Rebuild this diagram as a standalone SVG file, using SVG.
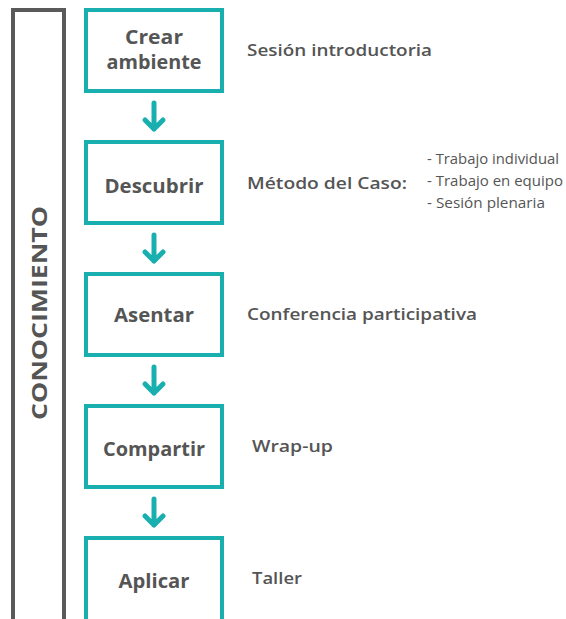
<svg xmlns="http://www.w3.org/2000/svg" width="566" height="619" viewBox="0 0 566 619">
<defs>
<style>
.box{fill:#fff;stroke:#1aafaf;stroke-width:4}
.bl{font-family:"Open Sans",Lato,sans-serif;font-weight:700;font-size:20px;fill:#555;text-anchor:middle}
.bl2{font-family:"Open Sans",Lato,sans-serif;font-weight:700;font-size:19px;fill:#555;text-anchor:middle}
.rl{font-family:"Open Sans",Lato,sans-serif;font-weight:600;font-size:17px;fill:#555}
.sl{font-family:"Open Sans",Lato,sans-serif;font-weight:400;font-size:14px;fill:#555}
.arr{fill:none;stroke:#1aafaf;stroke-width:5;stroke-linecap:round;stroke-linejoin:round}
</style>
</defs>
<g id="conocimiento">
<path d="M13,619 V10 H64 V619" fill="none" stroke="#5a5a5a" stroke-width="4"/>
<text transform="translate(47,313) rotate(-90)" text-anchor="middle" font-family="'Open Sans',Lato,sans-serif" font-weight="700" font-size="22" fill="#555" textLength="214" lengthAdjust="spacingAndGlyphs">CONOCIMIENTO</text>
</g>
<g id="connectors">
<path class="arr" d="M154,103 V129 M145,120 L154,129 L163,120"/>
<path class="arr" d="M154,235 V261 M145,252 L154,261 L163,252"/>
<path class="arr" d="M154,367 V393 M145,384 L154,393 L163,384"/>
<path class="arr" d="M154,499 V525 M145,516 L154,525 L163,516"/>
</g>
<g id="crear">
<rect class="box" x="86" y="10" width="136" height="81"/>
<text class="bl2" x="154" y="44" textLength="58" lengthAdjust="spacingAndGlyphs">Crear</text>
<text class="bl2" x="154" y="69" textLength="95" lengthAdjust="spacingAndGlyphs">ambiente</text>
<text class="rl" x="247" y="56" textLength="185" lengthAdjust="spacingAndGlyphs">Sesión introductoria</text>
</g>
<g id="descubrir">
<rect class="box" x="86" y="142" width="136" height="81"/>
<text class="bl" x="154" y="193" textLength="99" lengthAdjust="spacingAndGlyphs">Descubrir</text>
<text class="rl" x="247" y="189" textLength="160" lengthAdjust="spacingAndGlyphs">Método del Caso:</text>
<text class="sl" x="427" y="164" textLength="132" lengthAdjust="spacingAndGlyphs">- Trabajo individual</text>
<text class="sl" x="427" y="186" textLength="136" lengthAdjust="spacingAndGlyphs">- Trabajo en equipo</text>
<text class="sl" x="427" y="208" textLength="118" lengthAdjust="spacingAndGlyphs">- Sesión plenaria</text>
</g>
<g id="asentar">
<rect class="box" x="86" y="274" width="136" height="81"/>
<text class="bl" x="154" y="322" textLength="80" lengthAdjust="spacingAndGlyphs">Asentar</text>
<text class="rl" x="247" y="320" textLength="230" lengthAdjust="spacingAndGlyphs">Conferencia participativa</text>
</g>
<g id="compartir">
<rect class="box" x="86" y="406" width="136" height="81"/>
<text class="bl" x="154" y="456" textLength="102" lengthAdjust="spacingAndGlyphs">Compartir</text>
<text class="rl" x="252" y="452" textLength="81" lengthAdjust="spacingAndGlyphs">Wrap-up</text>
</g>
<g id="aplicar">
<rect class="box" x="86" y="538" width="136" height="84"/>
<text class="bl" x="154" y="588" textLength="71" lengthAdjust="spacingAndGlyphs">Aplicar</text>
<text class="rl" x="252" y="584" textLength="50" lengthAdjust="spacingAndGlyphs">Taller</text>
</g>
</svg>
